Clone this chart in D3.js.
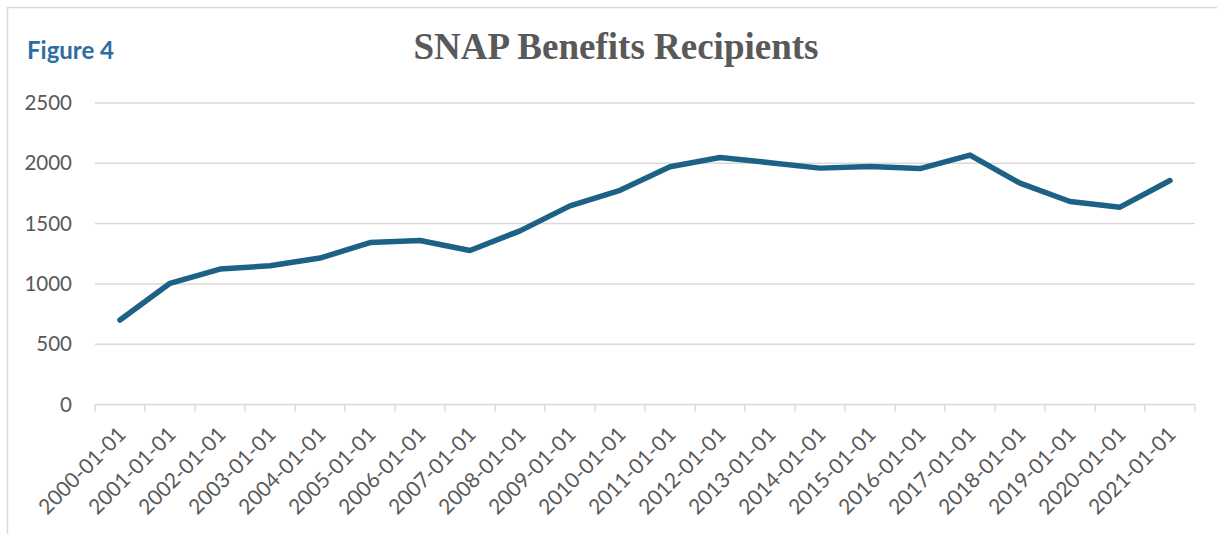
<!DOCTYPE html>
<head>
<meta charset="utf-8">
<title>SNAP Benefits Recipients</title>
<script src="https://d3js.org/d3.v7.min.js"></script>
<style>
  body { margin: 0; background: #fff; }
</style>
</head>
<body>
  <div id="chart"></div>
</body>
<script>
    // data
    let years = ["2000-01-01", "2001-01-01", "2002-01-01", "2003-01-01", "2004-01-01", "2005-01-01",
                 "2006-01-01", "2007-01-01", "2008-01-01", "2009-01-01", "2010-01-01", "2011-01-01",
                 "2012-01-01", "2013-01-01", "2014-01-01", "2015-01-01", "2016-01-01", "2017-01-01",
                 "2018-01-01", "2019-01-01", "2020-01-01", "2021-01-01"];
    let recipients = [700, 1005, 1123, 1150, 1214, 1343, 1360, 1277, 1440, 1647, 1776, 1972,
                      2048, 2005, 1960, 1973, 1956, 2068, 1835, 1683, 1636, 1857];
    let yTicks = [0, 500, 1000, 1500, 2000, 2500];

    var W = 1217, H = 534;
    var margin = {top: 103, right: 22, bottom: 130, left: 95};

    let svg = d3.select("#chart")
      .append("svg")
        .attr("width", W)
        .attr("height", H);

    // outer frame (only top and left edges show)
    svg.append("rect")
      .attr("x", 7.5).attr("y", 7.5)
      .attr("width", W + 20).attr("height", H + 20)
      .attr("fill", "none")
      .attr("stroke", "#d9d9d9")
      .attr("stroke-width", 1.5);

    svg.append("text")
      .attr("x", 27)
      .attr("y", 59)
      .attr("font-family", "Lato, sans-serif")
      .attr("font-weight", "bold")
      .attr("font-size", "24px")
      .attr("fill", "#2e6da4")
      .text("Figure 4");

    svg.append("text")
      .attr("x", 616)
      .attr("y", 59)
      .attr("font-family", "'Liberation Serif', serif")
      .attr("font-weight", "bold")
      .attr("font-size", "37px")
      .attr("fill", "#595959")
      .attr("text-anchor", "middle")
      .text("SNAP Benefits Recipients");

    let xScale = d3.scaleBand().domain(years).range([margin.left, W - margin.right]).padding(0);
    let yScale = d3.scaleLinear().domain([0, 2500]).range([404.5, margin.top]);

    // gridlines
    svg.append("g")
      .selectAll("line")
      .data(yTicks.filter(d => d > 0))
      .enter().append("line")
        .attr("x1", margin.left)
        .attr("x2", W - margin.right)
        .attr("y1", d => yScale(d))
        .attr("y2", d => yScale(d))
        .attr("stroke", "#d9d9d9")
        .attr("stroke-width", 1.5);

    // y labels
    svg.append("g")
      .selectAll("text")
      .data(yTicks)
      .enter().append("text")
        .attr("x", 72)
        .attr("y", d => yScale(d))
        .attr("dy", "0.35em")
        .attr("text-anchor", "end")
        .attr("font-family", "Lato, sans-serif")
        .attr("font-size", "20.5px")
        .attr("fill", "#595959")
        .text(d => d);

    // x axis: line with tick marks at category boundaries
    let xAxis = svg.append("g")
      .attr("transform", "translate(0," + yScale(0) + ")");
    xAxis.append("line")
      .attr("x1", margin.left).attr("x2", W - margin.right)
      .attr("stroke", "#d9d9d9").attr("stroke-width", 1.5);
    let bounds = years.map(d => xScale(d)).concat([W - margin.right]);
    xAxis.selectAll(".tk")
      .data(bounds)
      .enter().append("line")
        .attr("class", "tk")
        .attr("x1", d => d).attr("x2", d => d)
        .attr("y1", 0).attr("y2", 7)
        .attr("stroke", "#d9d9d9").attr("stroke-width", 1.5);

    xAxis.selectAll(".lbl")
      .data(years)
      .enter().append("text")
        .attr("class", "lbl")
        .attr("transform", d => "translate(" + (xScale(d) + xScale.bandwidth() / 2 + 2) + ",26) rotate(-45)")
        .attr("dy", "0.35em")
        .attr("text-anchor", "end")
        .attr("font-family", "Lato, sans-serif")
        .attr("font-size", "21px")
        .attr("fill", "#595959")
        .text(d => d);

    // the series line
    let line = d3.line()
      .x((d, i) => xScale(years[i]) + xScale.bandwidth() / 2)
      .y(d => yScale(d));

    svg.append("path")
      .datum(recipients)
      .attr("d", line)
      .attr("fill", "none")
      .attr("stroke", "#1d6286")
      .attr("stroke-width", 5.5)
      .attr("stroke-linejoin", "round")
      .attr("stroke-linecap", "round");
</script>
